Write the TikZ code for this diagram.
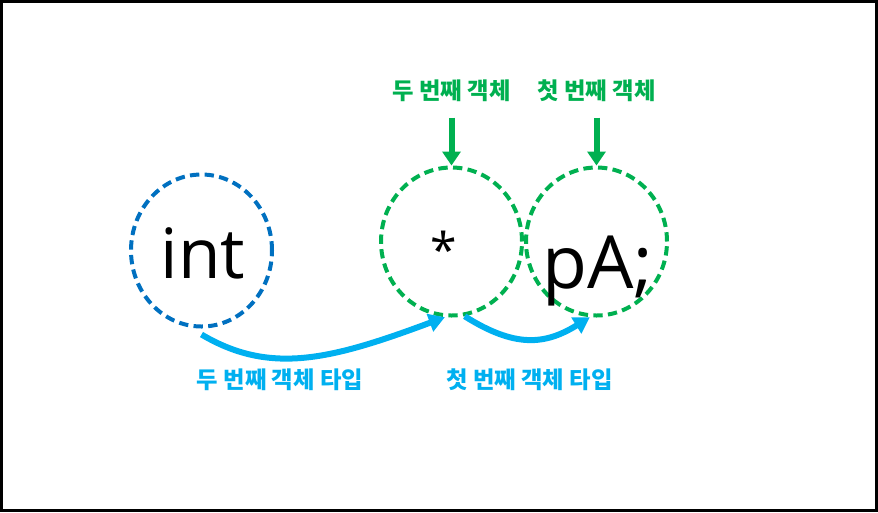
\documentclass[tikz,border=0pt]{standalone}
\usepackage{fontspec}
\setmainfont{Open Sans}
\newfontfamily\kr{Noto Sans CJK KR}
\usetikzlibrary{arrows.meta,positioning,shapes.geometric}

\definecolor{objblue}{HTML}{0070C0}
\definecolor{objgreen}{HTML}{00B050}
\definecolor{typecyan}{HTML}{00B0F0}

\begin{document}
\begin{tikzpicture}[
    x=0.75pt, y=-0.75pt,
    blob/.style={draw, ellipse, line width=3pt, dash pattern=on 7pt off 4pt,
      minimum width=105.75pt, minimum height=111pt, inner sep=0pt},
    big/.style={font=\fontsize{52}{52}\selectfont, anchor=base},
    tag/.style={font=\kr\bfseries\fontsize{17.5}{18}\selectfont},
    down/.style={-{Triangle[length=10.5pt,width=13.5pt]}, line width=4.5pt, objgreen},
    link/.style={-{Triangle[length=12pt,width=13.5pt]}, line width=4.5pt, typecyan}
  ]
    \useasboundingbox (0,0) rectangle (878,512);
    \draw[line width=2.25pt] (1.5,1.5) rectangle (876.5,510.5);

    % the three parts of the declaration
    \node[blob, objblue, minimum height=114pt] (type) at (201.5,250.5) {};
    \node[blob, objgreen] (star) at (451.5,241.5) {};
    \node[blob, objgreen] (ptr) at (596.5,241.5) {};

    \node[big] (inttxt) at (203,278) {int};
    \node[big, font=\fontsize{36}{36}\selectfont] (startxt) at (444,267) {*};
    \node[big, font=\fontsize{55}{55}\selectfont] (ptrtxt) at (598,288) {pA;};

    % object labels
    \node[tag, objgreen, above=44pt of star] (second) {두 번째 객체};
    \node[tag, objgreen, above=44pt of ptr] (first) {첫 번째 객체};
    \draw[down, shorten <=8pt] (second) -- (star.north);
    \draw[down, shorten <=8pt] (first) -- (ptr.north);

    % type links
    \coordinate (from1) at ([yshift=-4.5pt]type.south);
    \draw[link] (from1) .. controls (270,375) and (330,360) .. (star.265);
    \draw[link] (star.-80) .. controls (515,348) and (545,345) .. (ptr.265);

    \node[tag, typecyan] (secondtype) at (280,380) {두 번째 객체 타입};
    \node[tag, typecyan] (firsttype) at (529.5,380) {첫 번째 객체 타입};
  \end{tikzpicture}
\end{document}
